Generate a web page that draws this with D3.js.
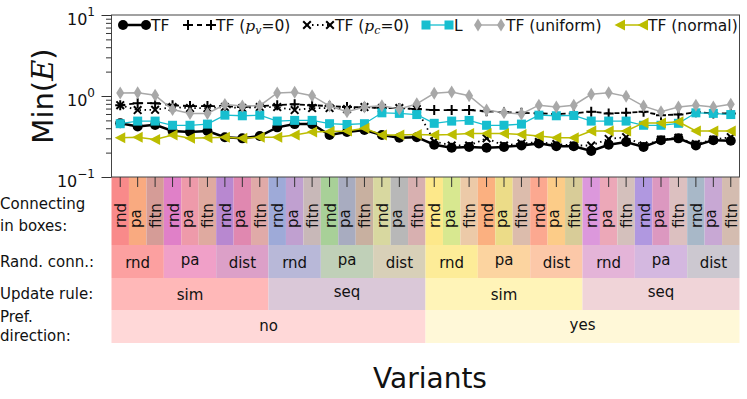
<!DOCTYPE html>
<html>
<head>
<meta charset="utf-8">
<script src="https://cdn.jsdelivr.net/npm/d3@7"></script>
<style>
  body { margin: 0; background: #fff; }
  svg { display: block; font-family: "DejaVu Sans", sans-serif; }
</style>
</head>
<body>
<div id="chart"></div>
<script>
// categories (outer to inner)
var prefDirection = ["no", "yes"];
var updateRule = ["sim", "seq"];
var randConn = ["rnd", "pa", "dist"];
var boxConn = ["rnd", "pa", "fitn"];

var rowLabels = [["Connecting", "in boxes:"], ["Rand. conn.:"], ["Update rule:"], ["Pref.", "direction:"]];
var yTicks = [0.1, 1, 10];

// Min(E) per variant
var tf = [0.46, 0.42, 0.44, 0.37, 0.36, 0.37, 0.31, 0.30, 0.32, 0.41, 0.45, 0.45,
          0.33, 0.36, 0.38, 0.33, 0.305, 0.31, 0.25, 0.23, 0.235, 0.23, 0.235, 0.245,
          0.26, 0.24, 0.24, 0.21, 0.25, 0.27, 0.235, 0.285, 0.30, 0.245, 0.285, 0.28];
var tfPv0 = [0.77, 0.815, 0.815, 0.77, 0.75, 0.75, 0.75, 0.73, 0.75, 0.77, 0.79, 0.77,
             0.75, 0.73, 0.73, 0.71, 0.71, 0.69, 0.67, 0.67, 0.67, 0.65, 0.63, 0.62,
             0.61, 0.60, 0.61, 0.64, 0.61, 0.62, 0.64, 0.58, 0.59, 0.63, 0.61, 0.61];
var tfPc0 = [0.77, 0.67, 0.675, 0.73, 0.71, 0.71, 0.73, 0.71, 0.73, 0.73, 0.67, 0.71,
             0.71, 0.69, 0.73, 0.71, 0.71, 0.69, 0.275, 0.245, 0.245, 0.30, 0.245, 0.26,
             0.27, 0.255, 0.245, 0.245, 0.295, 0.31, 0.245, 0.29, 0.305, 0.255, 0.29, 0.31];
var lSeries = [0.455, 0.49, 0.49, 0.435, 0.435, 0.45, 0.58, 0.57, 0.58, 0.49, 0.50, 0.50,
               0.455, 0.445, 0.455, 0.62, 0.61, 0.59, 0.46, 0.49, 0.50, 0.435, 0.435, 0.45,
               0.58, 0.57, 0.575, 0.49, 0.49, 0.49, 0.435, 0.435, 0.46, 0.62, 0.61, 0.59];
var tfUniform = [1.09, 1.10, 1.02, 0.68, 0.61, 0.61, 0.785, 0.75, 0.76, 1.09, 1.11, 1.01,
                 0.75, 0.64, 0.73, 0.76, 0.69, 0.80, 1.08, 1.12, 1.01, 0.67, 0.62, 0.60,
                 0.77, 0.73, 0.77, 1.05, 1.10, 0.99, 0.75, 0.64, 0.73, 0.77, 0.73, 0.79];
var tfNormal = [0.305, 0.31, 0.29, 0.33, 0.30, 0.305, 0.31, 0.30, 0.31, 0.31, 0.33, 0.36,
                0.365, 0.37, 0.40, 0.33, 0.33, 0.335, 0.33, 0.335, 0.345, 0.345, 0.345, 0.335,
                0.32, 0.305, 0.305, 0.37, 0.37, 0.37, 0.465, 0.465, 0.48, 0.37, 0.37, 0.37];

// box colours
var boxColors = ["#f98a8a", "#f9aa80", "#d59c97", "#e080c8", "#ee9aaa", "#dfaaa0",
                 "#b888d0", "#e088b0", "#e0aaa8", "#9eaad8", "#c0a0d0", "#c8b8b8",
                 "#a8d098", "#a8acc0", "#c8b0a0", "#d8d8a0", "#b8b8b8", "#d8b0b0",
                 "#fde88a", "#d8e890", "#eccaa8", "#fbb080", "#ecdc88", "#dcbcac",
                 "#fca890", "#fccc88", "#d8cc98", "#dc98dc", "#eca8b8", "#d4c0bc",
                 "#b098e0", "#dc98c0", "#dcc0c0", "#a8b8c8", "#c8a8d4", "#d4bcb0"];
var randColors = ["#fca0a0", "#f0a0c8", "#dca0c8", "#b8b8d8", "#c0d0b8", "#d8d0b8",
                  "#fdec98", "#fcd4a0", "#fcc8a8", "#e4b4d8", "#d4b8e0", "#ccc8d0"];
var updColors = ["#ffb8b8", "#dac8d8", "#fff4b8", "#f0d4d8"];
var prefColors = ["#ffd8d8", "#fff8d8"];

var variants = [];
prefDirection.forEach(function(p) {
  updateRule.forEach(function(u) {
    randConn.forEach(function(r) {
      boxConn.forEach(function(b) {
        variants.push({pref: p, upd: u, rand: r, box: b});
      });
    });
  });
});

var svgWidth = 747, svgHeight = 399;
var plot = {left: 111.5, right: 739.5, top: 15, bottom: 177};
var rows = [177, 245, 278, 310, 343];

var svg = d3.select("#chart").append("svg")
  .attr("width", svgWidth)
  .attr("height", svgHeight);

var x = d3.scaleBand().domain(d3.range(variants.length)).range([plot.left, plot.right]);
var cx = function(i) { return x(i) + x.bandwidth() / 2; };
var y = d3.scaleLog().domain([0.1, 10]).range([plot.bottom, plot.top]);

// ink-centred text helper
var ctx = document.createElement("canvas").getContext("2d");
function inkMid(txt, size) {
  ctx.font = size + "px 'DejaVu Sans'";
  var m = ctx.measureText(txt);
  return (m.actualBoundingBoxAscent - m.actualBoundingBoxDescent) / 2;
}

// consecutive runs of variants sharing a key
function runs(key) {
  var out = [];
  variants.forEach(function(v, i) {
    var k = key(v, i);
    if (out.length && out[out.length - 1].k === k) out[out.length - 1].end = i;
    else out.push({k: k, label: k.split("|")[0], start: i, end: i});
  });
  return out;
}

var levels = [
  runs(function(v, i) { return v.box + "|" + i; }),
  runs(function(v, i) { return v.rand + "|" + Math.floor(i / 3); }),
  runs(function(v, i) { return v.upd + "|" + Math.floor(i / 9); }),
  runs(function(v, i) { return v.pref + "|" + Math.floor(i / 18); })
];
var levelColors = [boxColors, randColors, updColors, prefColors];

levels.forEach(function(level, li) {
  var g = svg.append("g");
  g.selectAll("rect").data(level).enter().append("rect")
    .attr("x", function(d) { return x(d.start); })
    .attr("width", function(d) { return x(d.end) + x.bandwidth() - x(d.start); })
    .attr("y", rows[li])
    .attr("height", rows[li + 1] - rows[li])
    .attr("fill", function(d, i) { return levelColors[li][i]; });

  if (li === 0) {
    g.selectAll("text").data(level).enter().append("text")
      .attr("transform", function(d) {
        return "translate(" + (cx(d.start) + inkMid(d.label, 15)) + ",228) rotate(-90)";
      })
      .attr("font-size", 15)
      .attr("fill", "#111")
      .text(function(d) { return d.label; });
  } else {
    var mid = (rows[li] + rows[li + 1]) / 2;
    g.selectAll("text").data(level).enter().append("text")
      .attr("x", function(d) { return (x(d.start) + x(d.end) + x.bandwidth()) / 2; })
      .attr("y", function(d) { return mid + inkMid(d.label, 15); })
      .attr("text-anchor", "middle")
      .attr("font-size", 15)
      .attr("fill", "#111")
      .text(function(d) { return d.label; });
  }
});

// row labels on the left
var rowBase = [[209, 231], [267], [299], [322, 341]];
rowLabels.forEach(function(lines, li) {
  lines.forEach(function(t, k) {
    svg.append("text")
      .attr("x", 0).attr("y", rowBase[li][k])
      .attr("font-size", 15).attr("fill", "#111")
      .text(t);
  });
});

// frame
svg.append("rect")
  .attr("x", plot.left).attr("y", plot.top)
  .attr("width", plot.right - plot.left).attr("height", plot.bottom - plot.top)
  .attr("fill", "none").attr("stroke", "#444").attr("stroke-width", 1);

// x ticks
var xAxis = svg.append("g")
  .attr("transform", "translate(0," + plot.bottom + ")")
  .call(d3.axisBottom(x).tickSize(10).tickFormat(""));
xAxis.select(".domain").remove();
xAxis.selectAll("line").attr("stroke", "#333");

// y ticks, major and minor
var minor = [];
[0.1, 1].forEach(function(d) { for (var k = 2; k <= 9; k++) minor.push(d * k); });
var yMajor = svg.append("g")
  .attr("transform", "translate(" + plot.left + ",0)")
  .call(d3.axisLeft(y).tickValues(yTicks).tickSize(10).tickFormat(""));
var yMinor = svg.append("g")
  .attr("transform", "translate(" + plot.left + ",0)")
  .call(d3.axisLeft(y).tickValues(minor).tickSize(5.5).tickFormat(""));
[yMajor, yMinor].forEach(function(a) {
  a.select(".domain").remove();
  a.selectAll("line").attr("stroke", "#333");
});

yTicks.forEach(function(v) {
  var t = svg.append("text")
    .attr("x", 95).attr("y", y(v) + 9.5)
    .attr("text-anchor", "end")
    .attr("font-size", 16).attr("fill", "#111");
  t.append("tspan").text("10");
  t.append("tspan").attr("dy", -9).attr("font-size", 12)
    .text(String(Math.round(Math.log10(v))).replace("-", "\u2212"));
});

// y label
var yl = svg.append("text")
  .attr("transform", "translate(53,96) rotate(-90)")
  .attr("text-anchor", "middle")
  .attr("font-size", 29).attr("fill", "#111");
yl.append("tspan").text("Min(");
yl.append("tspan").attr("font-family", "'DejaVu Serif', serif").attr("font-style", "italic").text("E");
yl.append("tspan").text(")");

// x label
svg.append("text")
  .attr("x", 430).attr("y", 388)
  .attr("text-anchor", "middle")
  .attr("font-size", 28).attr("fill", "#111")
  .text("Variants");

// markers
function marker(g, type, color) {
  if (type === "circle") {
    g.append("circle").attr("r", 5).attr("fill", color);
  } else if (type === "plus") {
    g.append("path").attr("d", "M-5,0H5M0,-5V5").attr("stroke", color).attr("stroke-width", 2).attr("fill", "none");
  } else if (type === "x") {
    g.append("path").attr("d", "M-3.8,-3.8L3.8,3.8M-3.8,3.8L3.8,-3.8").attr("stroke", color).attr("stroke-width", 2).attr("fill", "none");
  } else if (type === "square") {
    g.append("rect").attr("x", -4.5).attr("y", -4.5).attr("width", 9).attr("height", 9).attr("fill", color);
  } else if (type === "diamond") {
    g.append("path").attr("d", "M0,-6.5L4,0L0,6.5L-4,0Z").attr("fill", color);
  } else if (type === "tri") {
    g.append("path").attr("d", "M-5.5,0L5,-5.5L5,5.5Z").attr("fill", color);
  }
}

var series = [
  {name: ["TF"], values: tf, color: "#000", width: 2.5, dash: null, marker: "circle"},
  {name: ["TF (", "p", "v", "=0)"], values: tfPv0, color: "#000", width: 1.8, dash: "5,4", marker: "plus"},
  {name: ["TF (", "p", "c", "=0)"], values: tfPc0, color: "#000", width: 1.8, dash: "1.5,3.5", marker: "x"},
  {name: ["L"], values: lSeries, color: "#17becf", width: 1.3, dash: null, marker: "square"},
  {name: ["TF (uniform)"], values: tfUniform, color: "#a8a8a8", width: 1.5, dash: null, marker: "diamond"},
  {name: ["TF (normal)"], values: tfNormal, color: "#bcbd00", width: 1.5, dash: null, marker: "tri"}
];

var line = d3.line()
  .x(function(d, i) { return cx(i); })
  .y(function(d) { return y(d); });

series.forEach(function(s) {
  var g = svg.append("g");
  g.append("path")
    .attr("d", line(s.values))
    .attr("fill", "none")
    .attr("stroke", s.color)
    .attr("stroke-width", s.width)
    .attr("stroke-dasharray", s.dash);
  s.values.forEach(function(v, i) {
    marker(g.append("g").attr("transform", "translate(" + cx(i) + "," + y(v) + ")"), s.marker, s.color);
  });
});

// legend, one entry per series along the top
var legendX = [123, 188, 307, 426, 478, 620];
var ly = 25;
series.forEach(function(s, k) {
  var lx = legendX[k];
  var g = svg.append("g");
  g.append("line")
    .attr("x1", lx).attr("x2", lx + 23).attr("y1", ly).attr("y2", ly)
    .attr("stroke", s.color).attr("stroke-width", s.width)
    .attr("stroke-dasharray", s.dash);
  marker(g.append("g").attr("transform", "translate(" + lx + "," + ly + ")"), s.marker, s.color);
  marker(g.append("g").attr("transform", "translate(" + (lx + 23) + "," + ly + ")"), s.marker, s.color);
  var t = g.append("text")
    .attr("x", lx + 28).attr("y", ly + 5.5)
    .attr("font-size", 15.5).attr("fill", "#111");
  if (s.name.length === 1) {
    t.text(s.name[0]);
  } else {
    t.append("tspan").text(s.name[0]);
    t.append("tspan").attr("font-family", "'DejaVu Serif', serif").attr("font-style", "italic").text(s.name[1]);
    t.append("tspan").attr("font-family", "'DejaVu Serif', serif").attr("font-style", "italic")
      .attr("font-size", 11).attr("dy", 3).text(s.name[2]);
    t.append("tspan").attr("dy", -3).text(s.name[3]);
  }
});
</script>
</body>
</html>
